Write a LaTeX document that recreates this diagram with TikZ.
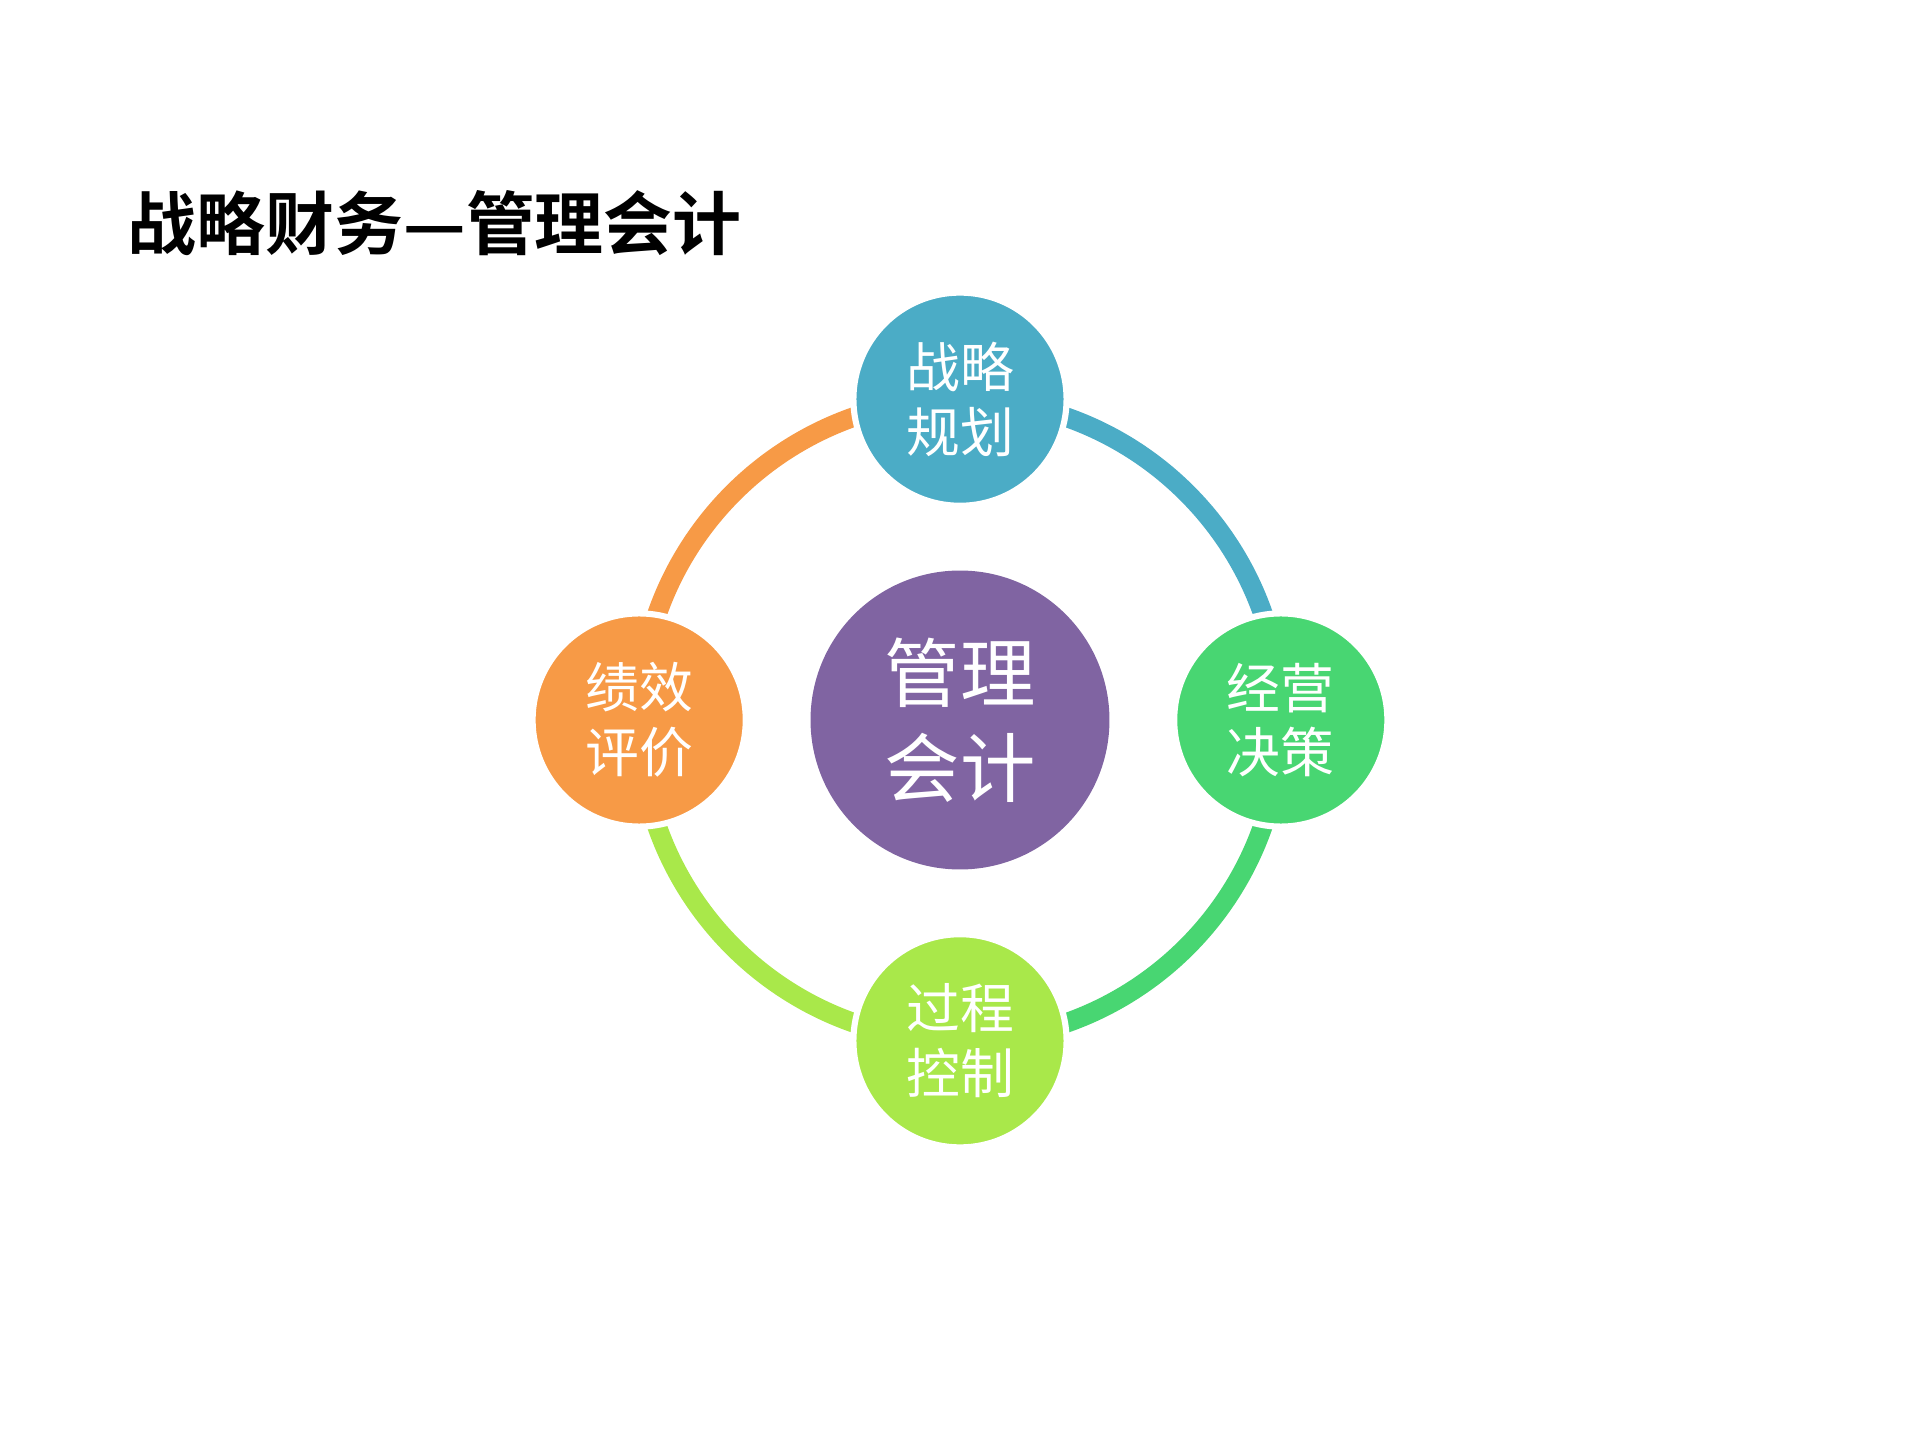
\documentclass[tikz,border=0pt]{standalone}
\usepackage{fontspec}
\newfontfamily\cjk{Noto Sans CJK SC}
\newfontfamily\cjkb{Noto Sans CJK SC Bold}
\definecolor{cblue}{HTML}{4BACC6}
\definecolor{cgreen}{HTML}{48D672}
\definecolor{clime}{HTML}{A9E84A}
\definecolor{corange}{HTML}{F79A46}
\definecolor{cpurple}{HTML}{8064A2}
\begin{document}
\begin{tikzpicture}[x=0.01cm,y=-0.01cm,
  ringarc/.style={line width=0.16cm},
  small/.style={circle,draw=white,line width=0.05cm,minimum size=1.74cm,inner sep=0,text=white,font=\cjk\fontsize{12.5}{15}\selectfont,align=center}]
\useasboundingbox[fill=white] (0,0) rectangle (1568,1176);
\node[anchor=west,font=\cjkb\fontsize{16}{18}\selectfont] (title) at (92,182) {战略财务—管理会计};
\coordinate (c) at (784,588);
\draw[ringarc,cblue] (784,326) arc[start angle=90,end angle=0,radius=2.62cm];
\draw[ringarc,cgreen] (1046,588) arc[start angle=0,end angle=-90,radius=2.62cm];
\draw[ringarc,clime] (784,850) arc[start angle=-90,end angle=-180,radius=2.62cm];
\draw[ringarc,corange] (522,588) arc[start angle=180,end angle=90,radius=2.62cm];
\node[circle,fill=cpurple,minimum size=2.44cm,inner sep=0,text=white,font=\cjk\fontsize{17.5}{22}\selectfont,align=center] (m) at (c) {管理\\会计};
\node[small,fill=cblue] (a) at (784,326) {战略\\规划};
\node[small,fill=cgreen] (b) at (1046,588) {经营\\决策};
\node[small,fill=clime] (d) at (784,850) {过程\\控制};
\node[small,fill=corange] (e) at (522,588) {绩效\\评价};
\end{tikzpicture}
\end{document}
